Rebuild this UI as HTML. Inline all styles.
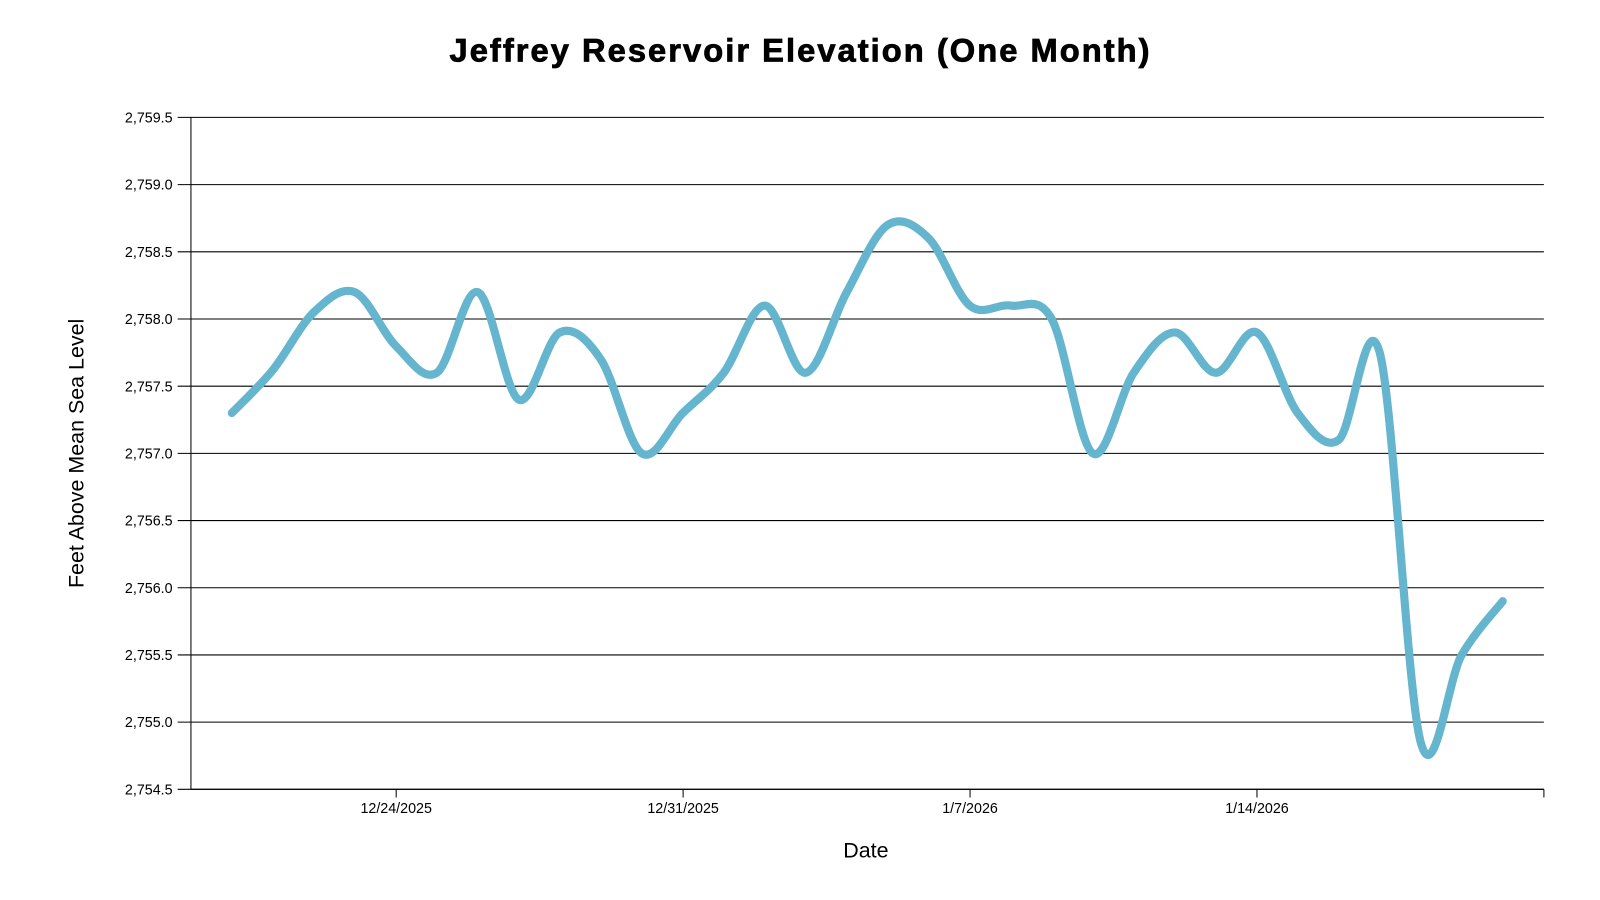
<!DOCTYPE html>
<html><head><meta charset="utf-8"><style>
html,body{margin:0;padding:0;background:#fff;}
svg{display:block;font-family:"Liberation Sans",Arial,sans-serif;}
</style></head><body>
<svg id="s" width="1600" height="900" viewBox="0 0 1600 900">
<g transform="scale(1.0211)">
<text x="784" y="60" text-anchor="middle" font-size="32" font-weight="bold" stroke="#000" stroke-width="0.8" style="letter-spacing:2px">Jeffrey Reservoir Elevation (One Month)</text>
<g id="grid"></g>
<line x1="187" y1="115" x2="187" y2="773" stroke="#000" stroke-width="1"/>
<line x1="187" y1="773" x2="1512" y2="773" stroke="#000" stroke-width="1"/>
<line x1="1512" y1="773" x2="1512" y2="781" stroke="#000" stroke-width="1"/>
<text x="848" y="840" text-anchor="middle" font-size="21">Date</text>
<text transform="translate(82,444) rotate(-90)" text-anchor="middle" font-size="21">Feet Above Mean Sea Level</text>
<path id="line" fill="none" stroke="#65b5cf" stroke-width="8" stroke-linecap="round" stroke-linejoin="round"/>
</g>
</svg>
<script>
var ns="http://www.w3.org/2000/svg",g=document.getElementById("grid");
function el(t,a,txt){var e=document.createElementNS(ns,t);for(var k in a)e.setAttribute(k,a[k]);if(txt)e.textContent=txt;g.appendChild(e);}
function Y(v){return 773-(v-2754.5)*131.6;}
for(var i=0;i<=10;i++){var v=2754.5+i*0.5,y=Y(v);
 el("line",{x1:174,y1:y,x2:1512,y2:y,stroke:"#000","stroke-width":1});
 el("text",{x:169,y:y+5,"text-anchor":"end","font-size":14},v.toFixed(1).replace(/^(\d)(\d{3})/,"$1,$2"));}
var xt=[[388,"12/24/2025"],[669,"12/31/2025"],[950,"1/7/2026"],[1231,"1/14/2026"]];
xt.forEach(function(t){el("line",{x1:t[0],y1:773,x2:t[0],y2:781,stroke:"#000"});el("text",{x:t[0],y:796,"text-anchor":"middle","font-size":14},t[1]);});
var d=[2757.3,2757.62,2758.05,2758.2,2757.8,2757.6,2758.2,2757.4,2757.9,2757.7,2757.0,2757.3,2757.6,2758.1,2757.6,2758.2,2758.7,2758.6,2758.1,2758.1,2758.0,2757.0,2757.6,2757.9,2757.6,2757.9,2757.3,2757.1,2757.75,2754.85,2755.5,2755.9];
var p=d.map(function(v,i){return [227+i*40.15,Y(v)];});
var s="M"+p[0][0]+","+p[0][1];
for(var i=0;i<p.length-1;i++){var p0=p[Math.max(i-1,0)],p1=p[i],p2=p[i+1],p3=p[Math.min(i+2,p.length-1)];
 var c1=[p1[0]+(p2[0]-p0[0])/6,p1[1]+(p2[1]-p0[1])/6],c2=[p2[0]-(p3[0]-p1[0])/6,p2[1]-(p3[1]-p1[1])/6];
 s+="C"+c1[0]+","+c1[1]+" "+c2[0]+","+c2[1]+" "+p2[0]+","+p2[1];}
document.getElementById("line").setAttribute("d",s);
</script>
</body></html>
